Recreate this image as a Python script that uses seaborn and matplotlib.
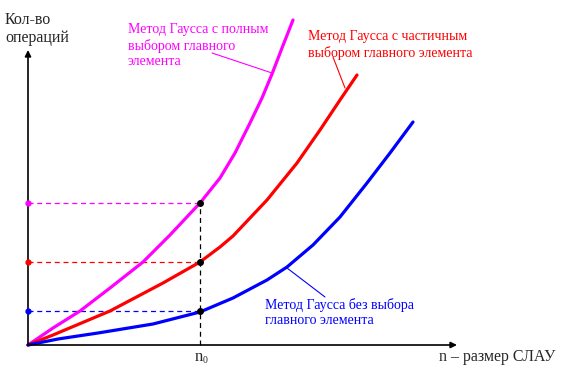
import matplotlib
matplotlib.use("Agg")
import matplotlib.pyplot as plt
import seaborn as sns
import pandas as pd

# values (n, number of operations), arbitrary units
full_n = [0, 25, 52, 82, 115, 142, 172, 192, 207, 222, 234, 244, 254, 265]
full_ops = [0, 17, 34, 57, 83, 110, 142, 167, 192, 222, 247, 271, 297, 325]

partial_n = [0, 25, 82, 135, 172, 192, 205, 239, 269, 292, 312, 329]
partial_ops = [0, 10, 34, 62, 83, 98, 109, 145, 182, 215, 245, 270]

none_n = [0, 30, 70, 125, 172, 205, 239, 259, 285, 312, 339, 362, 385]
none_ops = [0, 6, 12, 21, 33, 47, 65, 78, 100, 128, 162, 192, 223]

n0 = 172
n0_levels = [142, 83, 34]
level_colors = ["#ff00ff", "#ff0000", "#0000ff"]

labels = [
    "Метод Гаусса с полным\nвыбором главного\nэлемента",
    "Метод Гаусса с частичным\nвыбором главного элемента",
    "Метод Гаусса без выбора\nглавного элемента",
]

sns.set_style("white")
plt.rcParams["font.family"] = ["Liberation Serif", "DejaVu Serif"]

fig = plt.figure(figsize=(5.65, 3.78), dpi=100)
ax = fig.add_axes([0, 0, 1, 1])
ax.set_xlim(-28, 537)
ax.set_ylim(-33, 345)
ax.axis("off")

df = pd.concat([
    pd.DataFrame({"n": full_n, "ops": full_ops, "method": "full"}),
    pd.DataFrame({"n": partial_n, "ops": partial_ops, "method": "partial"}),
    pd.DataFrame({"n": none_n, "ops": none_ops, "method": "none"}),
])
sns.lineplot(data=df, x="n", y="ops", hue="method", sort=False,
             palette=dict(zip(["full", "partial", "none"], level_colors)),
             linewidth=2.3, legend=False, ax=ax, zorder=3)

# axes as arrows
arrow = dict(arrowstyle="-|>", lw=1.2, color="black", mutation_scale=9,
             shrinkA=0, shrinkB=0)
ax.annotate("", xy=(0, 295), xytext=(0, 0), arrowprops=arrow)
ax.annotate("", xy=(429, 0), xytext=(0, 0), arrowprops=arrow)

# dashed guides at n0
for lvl, c in zip(n0_levels, level_colors):
    ax.plot([0, n0], [lvl, lvl], ls=(0, (4, 3)), lw=0.9, color=c, zorder=2)
    ax.plot(0, lvl, "o", ms=3.5, color=c, zorder=4)
    ax.plot(n0, lvl, "o", ms=4, color="black", zorder=5)
ax.plot([n0, n0], [0, max(n0_levels)], ls=(0, (4, 3)), lw=0.9, color="black", zorder=2)

ax.text(n0 - 5, -4, "n", fontsize=12, va="top", ha="left")
ax.text(n0 + 3, -11, "0", fontsize=7, va="top", ha="left")

ax.text(-23, 333, "Кол-во\nопераций", fontsize=11.5,
        va="top", ha="left", linespacing=1.15)
ax.text(411, -4, "n – размер СЛАУ", fontsize=11.5, va="top", ha="left")

# curve labels with leader lines
ax.text(100, 322, labels[0], color=level_colors[0], fontsize=10, va="top",
        ha="left", linespacing=1.25)
ax.plot([184, 244], [292, 272], color=level_colors[0], lw=0.8)

ax.text(280, 315, labels[1], color=level_colors[1], fontsize=10, va="top",
        ha="left", linespacing=1.25)
ax.plot([305, 317], [288, 257], color=level_colors[1], lw=0.8)

ax.text(237, 47, labels[2], color=level_colors[2], fontsize=10, va="top",
        ha="left", linespacing=1.25)
ax.plot([259, 297], [77, 48], color=level_colors[2], lw=0.8)

fig.savefig("out.png", dpi=100)
